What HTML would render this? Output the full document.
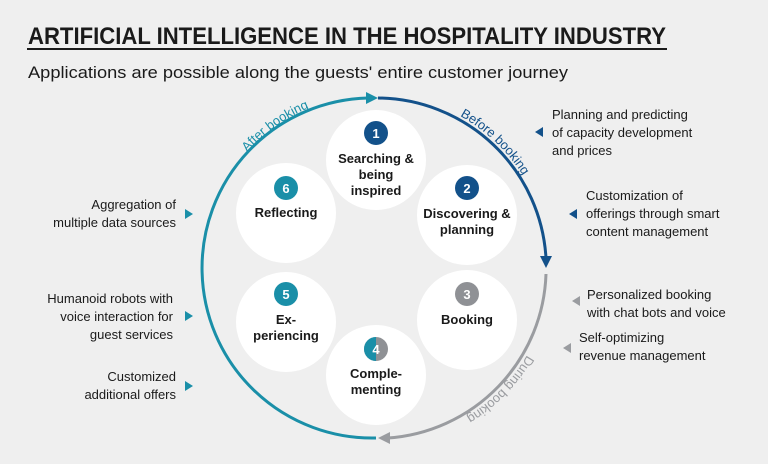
<!DOCTYPE html>
<html><head><meta charset="utf-8"><style>
html,body{margin:0;padding:0;background:#efefef;}
svg{display:block;font-family:"Liberation Sans",sans-serif;}
</style></head><body>
<svg width="768" height="464" viewBox="0 0 768 464">
<rect width="768" height="464" fill="#efefef"/>
<text x="28" y="44" font-family="Liberation Sans Narrow, Liberation Sans, sans-serif" font-weight="bold" font-size="24" fill="#1a1a1a" textLength="638" lengthAdjust="spacingAndGlyphs">ARTIFICIAL INTELLIGENCE IN THE HOSPITALITY INDUSTRY</text>
<rect x="27" y="48" width="640" height="2" fill="#1a1a1a"/>
<text x="28" y="78" font-size="17" fill="#1a1a1a" textLength="540" lengthAdjust="spacingAndGlyphs">Applications are possible along the guests' entire customer journey</text>

<defs>
<path id="pBefore" d="M 460 116 A 174 174 0 0 1 549 253"/>
<path id="pAfter" d="M 247 152 A 174 174 0 0 1 361 95"/>
<path id="pDuring" d="M 527 355 A 174 174 0 0 1 376 442"/>
</defs>
<path d="M 378 98 A 170 170 0 0 1 546 258" fill="none" stroke="#13518a" stroke-width="3"/>
<polygon points="540,256 552,256 546,268" fill="#13518a"/>
<path d="M 546 274 A 170 170 0 0 1 388 438" fill="none" stroke="#9a9ca0" stroke-width="3"/>
<polygon points="390,432 390,444 378,438" fill="#9a9ca0"/>
<path d="M 376 438 A 170 170 0 0 1 368 98" fill="none" stroke="#1a8fa8" stroke-width="3"/>
<polygon points="366,92 366,104 378,98" fill="#1a8fa8"/>

<text font-size="13" fill="#13518a"><textPath href="#pBefore">Before booking</textPath></text>
<text font-size="13" fill="#1a8fa8"><textPath href="#pAfter">After booking</textPath></text>
<text font-size="13" fill="#9a9ca0"><textPath href="#pDuring">During booking</textPath></text>

<g fill="#fff">
<circle cx="376" cy="160" r="50"/><circle cx="467" cy="215" r="50"/>
<circle cx="467" cy="320" r="50"/><circle cx="376" cy="375" r="50"/>
<circle cx="286" cy="322" r="50"/><circle cx="286" cy="213" r="50"/>
</g>
<g font-weight="bold" font-size="13" fill="#fff" text-anchor="middle">
<circle cx="376" cy="133" r="12" fill="#13518a"/><text x="376" y="138">1</text>
<circle cx="467" cy="188" r="12" fill="#13518a"/><text x="467" y="193">2</text>
<circle cx="467" cy="294" r="12" fill="#8f9195"/><text x="467" y="299">3</text>
<circle cx="376" cy="349" r="12" fill="#8f9195"/><path d="M 376 337 A 12 12 0 0 0 376 361 Z" fill="#1a8fa8"/><text x="376" y="354">4</text>
<circle cx="286" cy="294" r="12" fill="#1a8fa8"/><text x="286" y="299">5</text>
<circle cx="286" cy="188" r="12" fill="#1a8fa8"/><text x="286" y="193">6</text>
</g>
<g font-weight="bold" font-size="13" fill="#1a1a1a" text-anchor="middle">
<text x="376" y="163">Searching &amp;</text><text x="376" y="179">being</text><text x="376" y="195">inspired</text>
<text x="467" y="218">Discovering &amp;</text><text x="467" y="234">planning</text>
<text x="467" y="324">Booking</text>
<text x="376" y="378">Comple-</text><text x="376" y="394">menting</text>
<text x="286" y="324">Ex-</text><text x="286" y="340">periencing</text>
<text x="286" y="217">Reflecting</text>
</g>

<g font-size="13" fill="#1a1a1a">
<text x="552" y="119">Planning and predicting</text>
<text x="552" y="137">of capacity development</text>
<text x="552" y="155">and prices</text>
<text x="586" y="200">Customization of</text>
<text x="586" y="218">offerings through smart</text>
<text x="586" y="236">content management</text>
<text x="587" y="299">Personalized booking</text>
<text x="587" y="317">with chat bots and voice</text>
<text x="579" y="342">Self-optimizing</text>
<text x="579" y="360">revenue management</text>
</g>
<polygon points="535,132 543,127 543,137" fill="#13518a"/>
<polygon points="569,214 577,209 577,219" fill="#13518a"/>
<polygon points="572,301 580,296 580,306" fill="#9a9ca0"/>
<polygon points="563,348 571,343 571,353" fill="#9a9ca0"/>

<g font-size="13" fill="#1a1a1a" text-anchor="end">
<text x="176" y="209">Aggregation of</text>
<text x="176" y="227">multiple data sources</text>
<text x="173" y="303">Humanoid robots with</text>
<text x="173" y="321">voice interaction for</text>
<text x="173" y="339">guest services</text>
<text x="176" y="381">Customized</text>
<text x="176" y="399">additional offers</text>
</g>
<polygon points="193,214 185,209 185,219" fill="#1a8fa8"/>
<polygon points="193,316 185,311 185,321" fill="#1a8fa8"/>
<polygon points="193,386 185,381 185,391" fill="#1a8fa8"/>
</svg>
</body></html>
